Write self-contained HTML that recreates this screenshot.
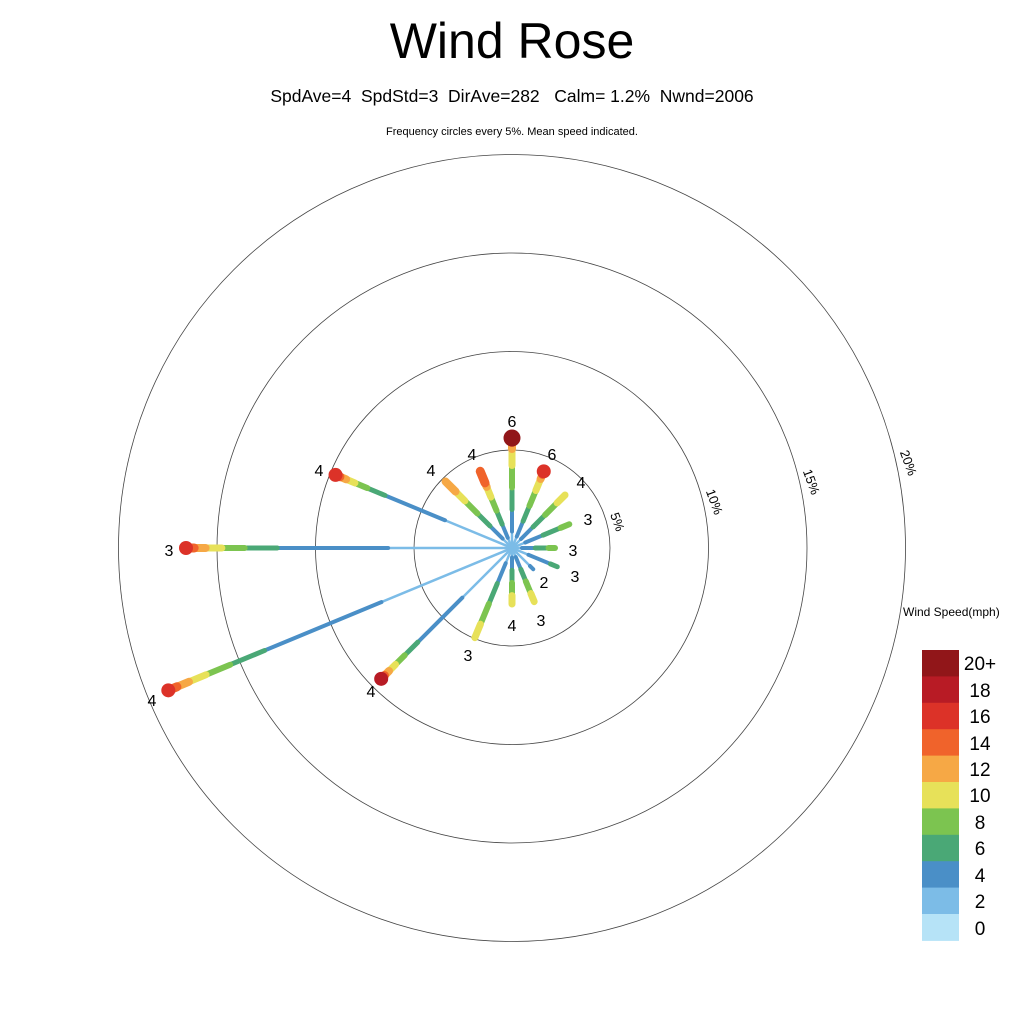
<!DOCTYPE html>
<html><head><meta charset="utf-8"><style>
html,body{margin:0;padding:0;background:#fff;}
body{width:1024px;height:1024px;overflow:hidden;font-family:"Liberation Sans",sans-serif;}
text{white-space:pre;}
</style></head><body>
<svg id="s" width="1024" height="1024" xmlns="http://www.w3.org/2000/svg" font-family="Liberation Sans, sans-serif" xml:space="preserve">
<rect width="1024" height="1024" fill="#fff"/>
<text x="512" y="58" font-size="50" text-anchor="middle">Wind Rose</text>
<text x="512" y="102" font-size="17.5" text-anchor="middle">SpdAve=4  SpdStd=3  DirAve=282   Calm= 1.2%  Nwnd=2006</text>
<text x="512" y="135" font-size="11" text-anchor="middle">Frequency circles every 5%. Mean speed indicated.</text>
<g fill="none" stroke="#444" stroke-width="0.8">
<circle cx="512" cy="548" r="98"/>
<circle cx="512" cy="548" r="196.5"/>
<circle cx="512" cy="548" r="295"/>
<circle cx="512" cy="548" r="393.5"/>
</g>
<g font-size="13">
<text transform="translate(617,522) rotate(70)" text-anchor="middle" dy="4">5%</text>
<text transform="translate(714,502) rotate(70)" text-anchor="middle" dy="4">10%</text>
<text transform="translate(811,482) rotate(70)" text-anchor="middle" dy="4">15%</text>
<text transform="translate(908,463) rotate(70)" text-anchor="middle" dy="4">20%</text>
</g>
<g id="spokes"></g>
<g font-size="16" text-anchor="middle">
<text x="512" y="427">6</text>
<text x="552" y="460">6</text>
<text x="581" y="488">4</text>
<text x="588" y="525">3</text>
<text x="573" y="556">3</text>
<text x="575" y="582">3</text>
<text x="544" y="588">2</text>
<text x="541" y="626">3</text>
<text x="512" y="631">4</text>
<text x="468" y="661">3</text>
<text x="371" y="697">4</text>
<text x="152" y="706">4</text>
<text x="169" y="556">3</text>
<text x="319" y="476">4</text>
<text x="431" y="476">4</text>
<text x="472" y="460">4</text>
</g>
<text x="903" y="616" font-size="12">Wind Speed(mph)</text>
<g id="leg"></g>
<g font-size="19" text-anchor="middle">
<text x="980" y="670">20+</text>
<text x="980" y="697">18</text>
<text x="980" y="723">16</text>
<text x="980" y="750">14</text>
<text x="980" y="776">12</text>
<text x="980" y="802">10</text>
<text x="980" y="829">8</text>
<text x="980" y="855">6</text>
<text x="980" y="882">4</text>
<text x="980" y="908">2</text>
<text x="980" y="935">0</text>
</g>
</svg>
<script>
var C=["#b6e3f7","#7cbce7","#4a8fc7","#4aa876","#7cc450","#e7e159","#f6a845","#f0632b","#dc3228","#b81b25","#911619"];
var W=[2,2.5,4,5,6,7,8,9,14,14,16];
var NS="http://www.w3.org/2000/svg";
var leg=document.getElementById("leg");
for(var i=0;i<11;i++){var r=document.createElementNS(NS,"rect");r.setAttribute("x",922);r.setAttribute("y",650+i*26.4);r.setAttribute("width",37);r.setAttribute("height",26.9);r.setAttribute("fill",C[10-i]);leg.appendChild(r);}
var S=[[0,112,10,0],[22.5,85,8,0],[45,78,5,0],[67.5,65,4,0],[90,46,4,0],[112.5,52,3,0],[135,33,2,0],[157.5,61,5,0],[180,59,5,0],[202.5,100,5,0],[225,187,9,1],[247.5,374,8,1],[270,328,8,1],[292.5,193,8,1],[315,97,6,0],[337.5,86,7,0]];
var FS=[0.15,0.35,0.55,0.75,0.9,0.96,0.99];
var FL=[0.38,0.72,0.82,0.89,0.94,0.975,0.99];
var g=document.getElementById("spokes");
S.forEach(function(s){
 var a=s[0]*Math.PI/180,dx=Math.sin(a),dy=-Math.cos(a),m=s[2],F=s[3]?FL:FS;
 var dot=m>=8, rr=m==10?8.5:7;
 var L=dot?s[1]-2:s[1]-3;
 var top=Math.min(m,7);
 var k=1;
 if(!dot && top>=2){k=0.85/F[top-2];}
 var prev=0;
 for(var c=1;c<=top;c++){
  var f=(c==top)?1:Math.min(F[c-1]*k,1);
  var ln=document.createElementNS(NS,"line");
  ln.setAttribute("x1",512+dx*L*prev);ln.setAttribute("y1",548+dy*L*prev);
  ln.setAttribute("x2",512+dx*L*f);ln.setAttribute("y2",548+dy*L*f);
  ln.setAttribute("stroke",C[c]);ln.setAttribute("stroke-width",W[c]);
  ln.setAttribute("stroke-linecap",c>1?"round":"butt");
  g.appendChild(ln);prev=f;
 }
 if(dot){var ci=document.createElementNS(NS,"circle");
  ci.setAttribute("cx",512+dx*L);ci.setAttribute("cy",548+dy*L);ci.setAttribute("r",rr);ci.setAttribute("fill",C[m]);g.appendChild(ci);}
});
</script>
</body></html>
